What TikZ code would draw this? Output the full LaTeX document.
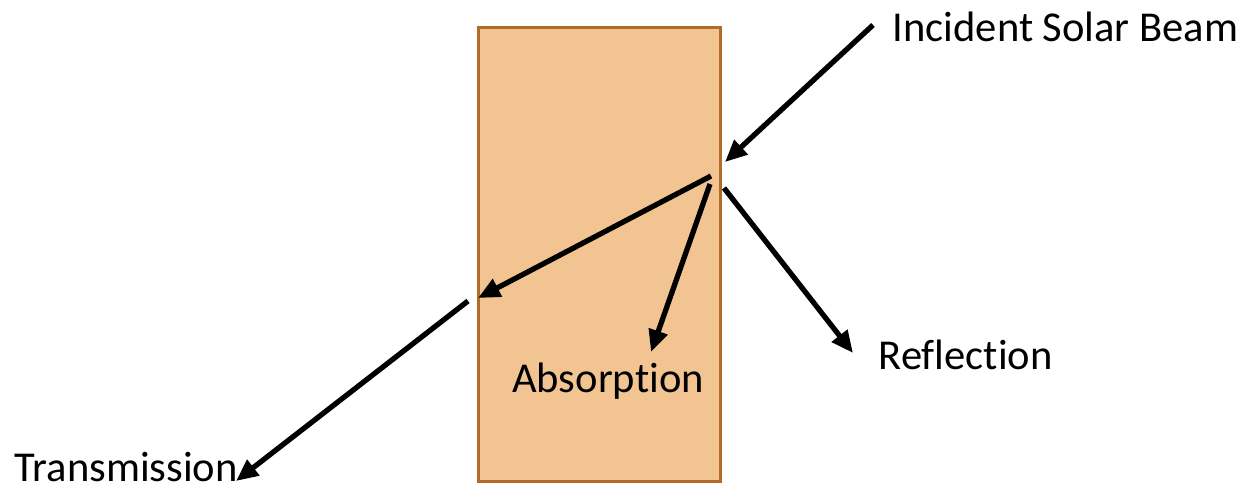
\documentclass[tikz,border=0pt]{standalone}
\usepackage{fontspec}
\setmainfont[Ligatures=NoCommon]{Carlito}
\usetikzlibrary{arrows.meta,positioning}
\definecolor{slabfill}{HTML}{F2C492}
\definecolor{slabedge}{HTML}{B06C28}

\begin{document}
\begin{tikzpicture}[
  x=0.01cm, y=-0.01cm,
  >={Triangle[length=0.22cm, width=0.19cm]},
  ray/.style={->, line width=1.5pt},
  lbl/.style={font=\fontsize{12.1}{14}\selectfont, inner sep=0pt},
]
\useasboundingbox (0,0) rectangle (1242,488);

% Slab
\node[draw=slabedge, fill=slabfill, line width=0.8pt, minimum width=2.42cm,
      minimum height=4.54cm, inner sep=0pt, anchor=north west] (slab) at (477,26) {};

% Labels
\node[lbl, anchor=west] (incident) at (892,27) {Incident Solar Beam};
\node[lbl, anchor=west] (reflect) at (878,355) {Reflection};
\node[lbl] (absorb) at (608,381) {Absorption};
\node[lbl, anchor=base west, text depth=0pt] (transmit) at (14,481) {Transmission};

% Ray end points
\coordinate (inA) at (873,25);
\coordinate (inB) at (725,162);
\coordinate (trA) at (711,176);
\coordinate (trB) at (478,298);
\coordinate (abA) at (710,184);
\coordinate (abB) at (651,352);
\coordinate (reA) at (724,188);
\coordinate (reB) at (853,353);
\coordinate (toA) at (468,301);
\coordinate (toB) at (236,481);

% Rays
\draw[ray] (inA) -- (inB);
\draw[ray] (trA) -- (trB);
\draw[ray] (abA) -- (abB);
\draw[ray] (reA) -- (reB);
\draw[ray] (toA) -- (toB);

\end{tikzpicture}
\end{document}
